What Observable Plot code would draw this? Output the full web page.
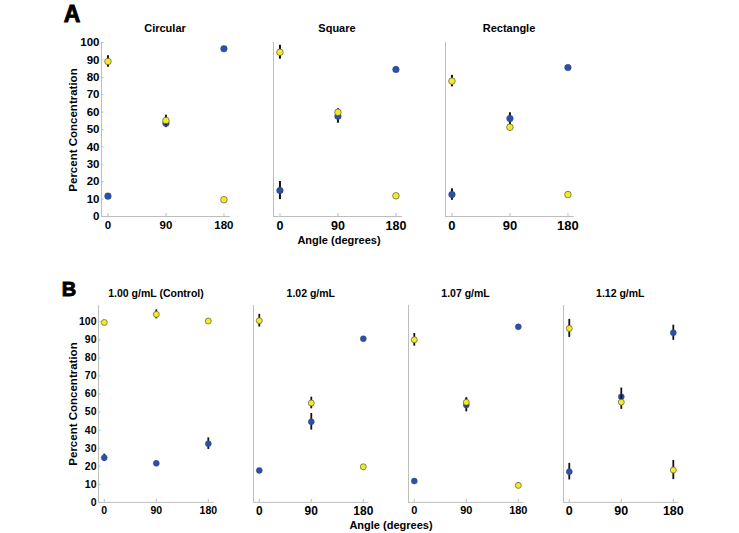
<!DOCTYPE html>
<html><head><meta charset="utf-8">
<script src="https://cdn.jsdelivr.net/npm/d3@7"></script>
<script src="https://cdn.jsdelivr.net/npm/@observablehq/plot@0.6"></script>
<style>
html,body{margin:0;padding:0;background:#fff;}
#chart{position:relative;width:739px;height:533px;overflow:hidden;background:#fff;font-family:"Liberation Sans",Arial,sans-serif;}
#chart svg{position:absolute;}
</style></head><body><div id="chart"></div>
<script>
// ---- data ----
const angles = [0, 90, 180];
const angleTicks = [0, 90, 180];
const percentTicks = [0, 10, 20, 30, 40, 50, 60, 70, 80, 90, 100];
const shapeTitles = ["Circular", "Square", "Rectangle"];
const shapeBlue = [[11.7, 53.6, 96.4], [14.9, 57.6, 84.5], [12.6, 56.3, 85.6]];
const shapeBlueErr = [[1.0, 2.5, 0.8], [5.2, 4.0, 1.5], [3.3, 3.3, 1.0]];
const shapeYellow = [[89.1, 55.2, 9.6], [94.4, 59.9, 11.9], [77.8, 51.3, 12.6]];
const shapeYellowErr = [[3.3, 3.0, 1.5], [4.0, 2.0, 1.2], [3.3, 2.0, 1.5]];
const densityTitles = ["1.00 g/mL (Control)", "1.02 g/mL", "1.07 g/mL", "1.12 g/mL"];
const densityBlue = [[24.7, 21.6, 32.5], [17.7, 44.6, 90.6], [11.8, 53.9, 97.2], [17.0, 58.5, 93.9]];
const densityBlueErr = [[2.0, 1.2, 3.2], [0.8, 4.6, 0.8], [0.6, 3.8, 0.6], [4.6, 4.8, 4.2]];
const densityYellow = [[99.6, 104.1, 100.4], [100.6, 55.0, 19.7], [90.0, 55.4, 9.4], [96.3, 55.5, 17.9]];
const densityYellowErr = [[1.0, 2.5, 1.0], [3.5, 3.2, 0.8], [3.5, 2.5, 1.5], [5.0, 4.0, 5.3]];

// ---- layout / style ----
const FONT = '"Liberation Sans", Arial, Helvetica, sans-serif';
const axisGray = "#bdbdbd";
const blueColor = "#2f50a0";
const yellowColor = "#f3ea2c";
const rowA = {x0s: [107, 279, 451], pxPerDeg: 0.6444, yTop: 42, yBottom: 216, yMax: 100,
  yTickFont: 11.5, xTickFonts: [11.5, 12.5, 13], tickPad: 4.5, r: 3.3, barW: 2, yPad: 2};
const rowB = {x0s: [104, 258.8, 413.5, 568.3], pxPerDeg: 0.578, yTop: 305.4, yBottom: 502.3, yMax: 109,
  yTickFont: 10.5, xTickFonts: [10.5, 12, 11, 12.5], tickPad: 4, r: 3, barW: 1.8, yPad: 2};
const xDomain = [-10, 190];

const chart = document.getElementById("chart");

function panel(row, i, blue, blueErr, yellow, yellowErr) {
  const first = i === 0;
  const mL = first ? 45 : 8, mR = 8, mT = 8, mB = 30;
  const plotW = (xDomain[1] - xDomain[0]) * row.pxPerDeg;
  const plotH = row.yBottom - row.yTop;
  const bd = angles.map((a, j) => ({angle: a, v: blue[j], e: blueErr[j]}));
  const yd = angles.map((a, j) => ({angle: a, v: yellow[j], e: yellowErr[j]}));
  const marks = [
    Plot.ruleX([xDomain[0]], {stroke: axisGray, strokeWidth: 1}),
    Plot.ruleY([0], {stroke: axisGray, strokeWidth: 1}),
    Plot.axisX({ticks: angleTicks, tickSize: -3, tickFormat: () => "", stroke: axisGray, label: null}),
    Plot.axisX({ticks: angleTicks, tickSize: 0, tickPadding: row.tickPad, fill: "black", label: null,
      fontSize: row.xTickFonts[i]}),
    Plot.ruleX(bd, {x: "angle", y1: d => d.v - d.e, y2: d => d.v + d.e, stroke: "#111", strokeWidth: row.barW}),
    Plot.dot(bd, {x: "angle", y: "v", r: row.r, fill: blueColor, stroke: "#2a4790", strokeWidth: 0.5}),
    Plot.ruleX(yd, {x: "angle", y1: d => d.v - d.e, y2: d => d.v + d.e, stroke: "#111", strokeWidth: row.barW}),
    Plot.dot(yd, {x: "angle", y: "v", r: row.r, fill: yellowColor, stroke: "#5a5a30", strokeWidth: 0.7})
  ];
  if (first) {
    marks.push(Plot.axisY({ticks: percentTicks, tickSize: -2.5, tickFormat: () => "", stroke: axisGray, label: null}));
    marks.push(Plot.axisY({ticks: percentTicks, tickSize: 0, tickPadding: row.yPad, fill: "black", label: null,
      fontSize: row.yTickFont}));
  }
  const svg = Plot.plot({
    width: mL + plotW + mR,
    height: mT + plotH + mB,
    marginLeft: mL, marginRight: mR, marginTop: mT, marginBottom: mB,
    x: {domain: xDomain, label: null},
    y: first ? {domain: [0, row.yMax], label: null} : {domain: [0, row.yMax], axis: null, label: null},
    style: {background: "transparent", overflow: "visible", fontFamily: FONT,
      fontSize: row.yTickFont + "px", fontWeight: "bold", color: "black"},
    marks
  });
  svg.style.left = (row.x0s[i] + xDomain[0] * row.pxPerDeg - mL) + "px";
  svg.style.top = (row.yTop - mT) + "px";
  chart.appendChild(svg);
}

shapeTitles.forEach((t, i) => panel(rowA, i, shapeBlue[i], shapeBlueErr[i], shapeYellow[i], shapeYellowErr[i]));
densityTitles.forEach((t, i) => panel(rowB, i, densityBlue[i], densityBlueErr[i], densityYellow[i], densityYellowErr[i]));

// ---- text overlay ----
const ov = d3.select(chart).append("svg")
  .attr("width", 739).attr("height", 533)
  .style("left", "0px").style("top", "0px").style("pointer-events", "none")
  .attr("font-family", FONT).attr("font-weight", "bold").attr("fill", "black");

function label(txt, x, y, size, opts = {}) {
  const t = ov.append("text").attr("x", x).attr("y", y).attr("font-size", size)
    .attr("text-anchor", opts.anchor || "middle").text(txt);
  if (opts.rotate) t.attr("transform", `rotate(-90,${x},${y})`);
  if (opts.heavy) t.attr("stroke", "black").attr("stroke-width", opts.heavy);
  return t;
}
label("A", 72, 22, 23, {heavy: 0.9});
label("B", 69, 296, 20, {heavy: 0.9});
shapeTitles.forEach((t, i) => label(t, rowA.x0s[i] + 90 * rowA.pxPerDeg, 31.5, 11));
densityTitles.forEach((t, i) => label(t, rowB.x0s[i] + 90 * rowB.pxPerDeg, 297, 10.5));
label("Percent Concentration", 77, 130, 11.5, {rotate: true});
label("Percent Concentration", 77, 404, 11.5, {rotate: true});
label("Angle (degrees)", 339, 244, 11);
label("Angle (degrees)", 391, 528.5, 11);
</script></body></html>
